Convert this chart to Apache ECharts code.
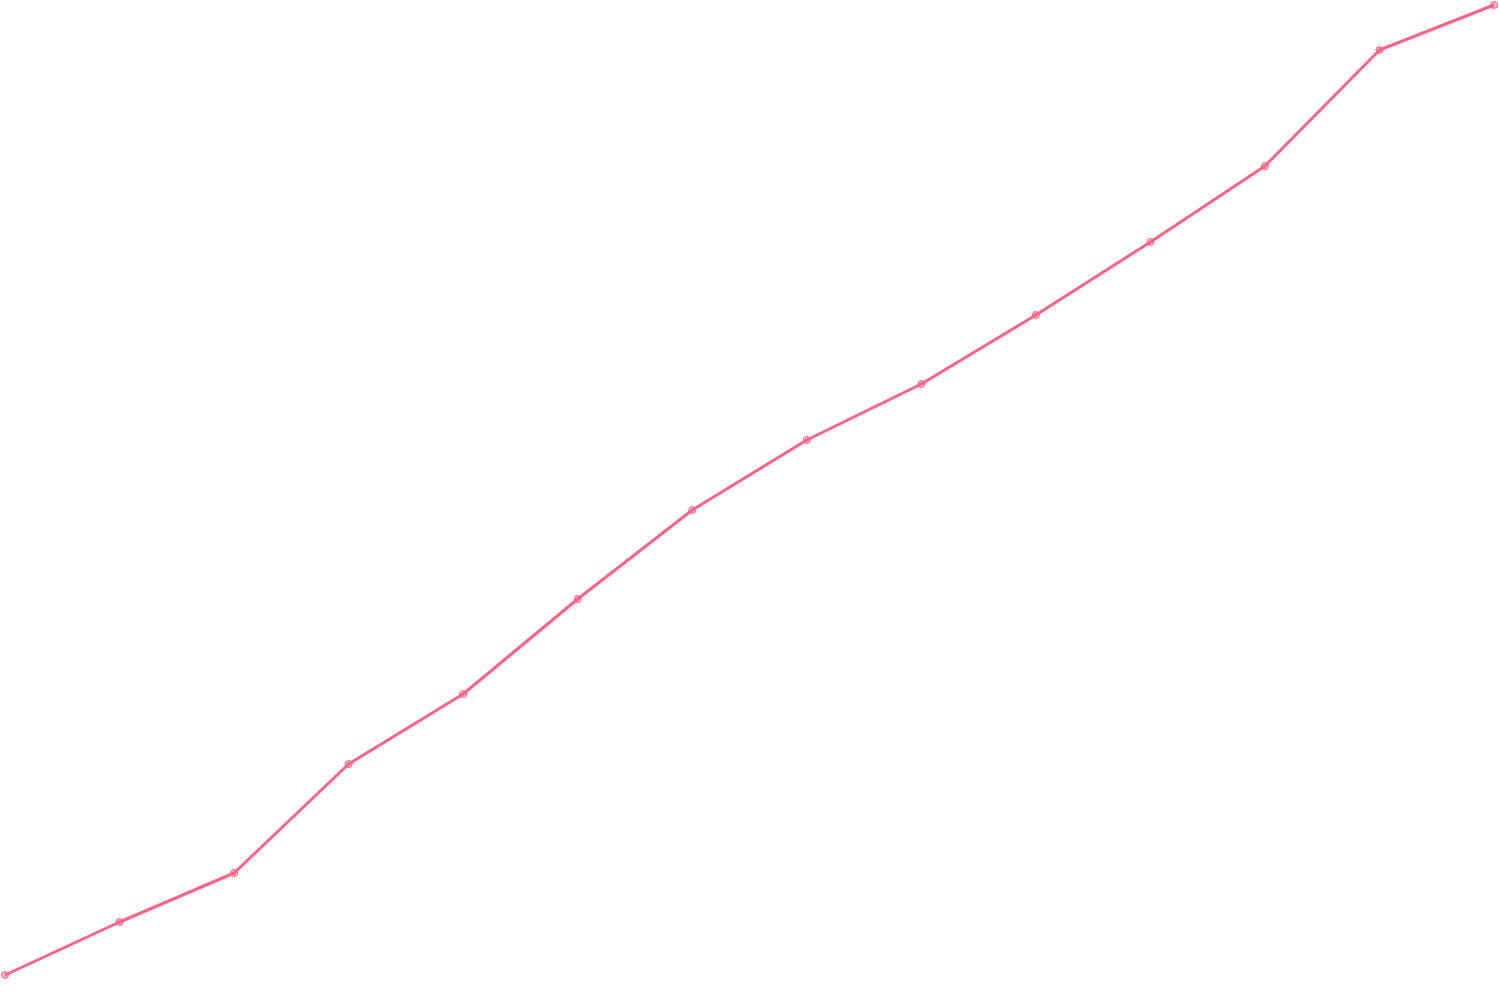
<!DOCTYPE html>
<html>
<head>
<meta charset="utf-8">
<script src="https://cdn.jsdelivr.net/npm/echarts@6/dist/echarts.min.js"></script>
<style>
  html, body { margin: 0; padding: 0; background: #ffffff; }
  #main { width: 1500px; height: 1000px; }
</style>
</head>
<body>
<div id="main"></div>
<script>
// 数据
var categories = ['1','2','3','4','5','6','7','8','9','10','11','12','13','14'];
var values = [0, 53, 102, 211, 281, 376, 465, 535, 591, 660, 733, 809, 925, 970];

var myChart = echarts.init(document.getElementById('main'));
myChart.setOption({
    animation: false,
    grid: {
        left: 5,
        right: 6,
        top: 5,
        bottom: 25
    },
    xAxis: {
        type: 'category',
        boundaryGap: false,
        data: categories,
        show: false
    },
    yAxis: {
        type: 'value',
        min: 0,
        max: 970,
        show: false
    },
    series: [
        {
            type: 'line',
            data: values,
            symbol: 'circle',
            symbolSize: 7,
            showSymbol: true,
            lineStyle: {
                color: 'rgb(255,99,132)',
                width: 3
            },
            itemStyle: {
                color: 'rgba(255,99,132,0.5)',
                borderColor: 'rgb(255,99,132)',
                borderWidth: 1
            }
        }
    ]
});
</script>
</body>
</html>
